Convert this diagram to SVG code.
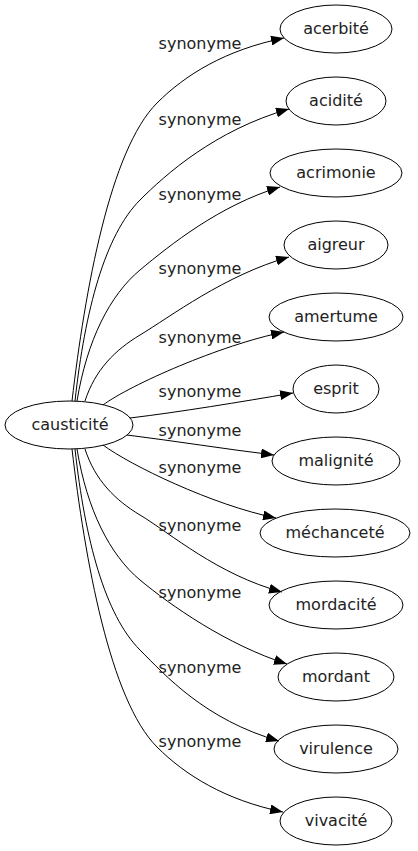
<svg xmlns="http://www.w3.org/2000/svg" width="418" height="851" viewBox="0 0 418 851">
<style>
.n{fill:none;stroke:#000;stroke-width:1}
.t{font-family:"DejaVu Sans",sans-serif;font-size:16px;fill:#222;text-anchor:middle}
.e{fill:none;stroke:#000;stroke-width:1;marker-end:url(#a)}
.l{font-family:"DejaVu Sans",sans-serif;font-size:16px;fill:#222;text-anchor:middle}
</style>
<defs>
<marker id="a" markerUnits="userSpaceOnUse" markerWidth="13" markerHeight="10" refX="13" refY="5" orient="auto">
<path d="M0,0 L13,5 L0,10 z" fill="#000"/>
</marker>
</defs>
<rect width="418" height="851" fill="#fff"/>
<g id="connectors">
<path class="e" d="M72,401 C85,290 110,150 157,103 C185,75 225,50 284,38"/>
<path class="e" d="M75,401 C85,310 105,235 140,200 C165,175 215,130 289,109"/>
<path class="e" d="M77,401 C87,340 110,295 140,270 C170,245 220,205 280,187"/>
<path class="e" d="M85,401 C95,370 115,350 140,335 C170,317 225,275 289,257"/>
<path class="e" d="M103,405 C130,385 220,345 284,332"/>
<path class="e" d="M130,418 C180,412 240,402 293,393"/>
<path class="e" d="M127,435 C175,441 225,449 274,455"/>
<path class="e" d="M103,445 C130,465 212,505 276,518"/>
<path class="e" d="M85,449 C95,480 115,500 140,515 C170,533 218,575 282,592"/>
<path class="e" d="M77,449 C87,510 110,555 140,580 C170,605 227,645 287,664"/>
<path class="e" d="M75,449 C85,540 105,615 140,650 C165,675 205,720 279,741"/>
<path class="e" d="M72,449 C85,560 110,700 157,747 C185,775 225,800 283,812"/>
<text class="l" x="200" y="49">synonyme</text>
<text class="l" x="200" y="125">synonyme</text>
<text class="l" x="200" y="200">synonyme</text>
<text class="l" x="200" y="274">synonyme</text>
<text class="l" x="200" y="343">synonyme</text>
<text class="l" x="200" y="397">synonyme</text>
<text class="l" x="200" y="436">synonyme</text>
<text class="l" x="200" y="473">synonyme</text>
<text class="l" x="200" y="531">synonyme</text>
<text class="l" x="200" y="598">synonyme</text>
<text class="l" x="200" y="673">synonyme</text>
<text class="l" x="200" y="747">synonyme</text>
</g>
<g id="causticite"><ellipse class="n" cx="69" cy="425" rx="64" ry="24"/><text class="t" x="70" y="430">causticité</text></g>
<g id="acerbite"><ellipse class="n" cx="336" cy="29" rx="56" ry="24"/><text class="t" x="336" y="34">acerbité</text></g>
<g id="acidite"><ellipse class="n" cx="336" cy="101" rx="50" ry="24"/><text class="t" x="336" y="106">acidité</text></g>
<g id="acrimonie"><ellipse class="n" cx="336" cy="173" rx="66" ry="24"/><text class="t" x="336" y="178">acrimonie</text></g>
<g id="aigreur"><ellipse class="n" cx="336" cy="245" rx="52" ry="24"/><text class="t" x="336" y="250">aigreur</text></g>
<g id="amertume"><ellipse class="n" cx="336" cy="317" rx="67" ry="24"/><text class="t" x="336" y="322">amertume</text></g>
<g id="esprit"><ellipse class="n" cx="336" cy="389" rx="43" ry="24"/><text class="t" x="336" y="394">esprit</text></g>
<g id="malignite"><ellipse class="n" cx="336" cy="461" rx="64" ry="24"/><text class="t" x="336" y="466">malignité</text></g>
<g id="mechancete"><ellipse class="n" cx="335" cy="533" rx="75" ry="24"/><text class="t" x="335" y="538">méchanceté</text></g>
<g id="mordacite"><ellipse class="n" cx="336" cy="605" rx="67" ry="24"/><text class="t" x="336" y="610">mordacité</text></g>
<g id="mordant"><ellipse class="n" cx="336" cy="677" rx="58" ry="24"/><text class="t" x="336" y="682">mordant</text></g>
<g id="virulence"><ellipse class="n" cx="336" cy="749" rx="62" ry="24"/><text class="t" x="336" y="754">virulence</text></g>
<g id="vivacite"><ellipse class="n" cx="336" cy="821" rx="56" ry="24"/><text class="t" x="336" y="826">vivacité</text></g>
</svg>
